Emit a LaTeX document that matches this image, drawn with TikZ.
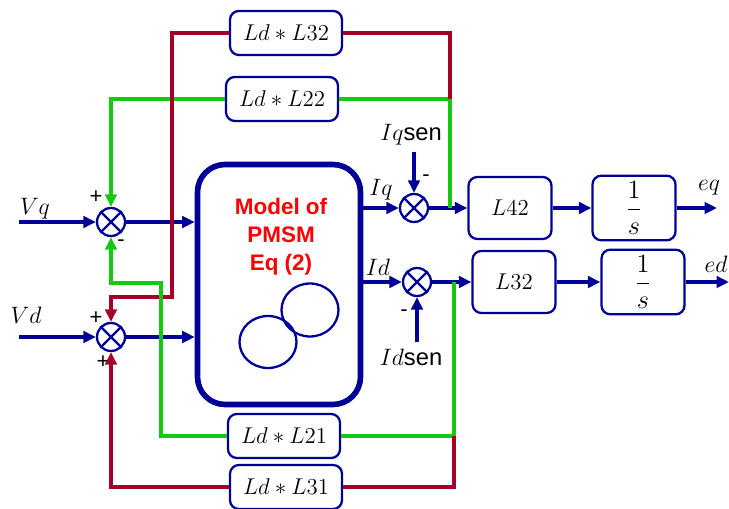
\RequirePackage{fix-cm}
\documentclass[tikz,border=0pt]{standalone}
\usepackage{fontspec}
\setmainfont{Liberation Sans}
\usetikzlibrary{arrows.meta, positioning, calc}
\definecolor{pmblue}{RGB}{0,0,150}
\definecolor{fbred}{RGB}{165,0,40}
\definecolor{fbgreen}{RGB}{20,200,20}
\definecolor{pmred}{RGB}{255,0,0}

\begin{document}
\begin{tikzpicture}[
  x=0.02cm, y=-0.02cm,
  blk/.style={rectangle, rounded corners=5pt, draw=pmblue, line width=1.3pt,
    minimum width=2.24cm, minimum height=0.88cm, font=\fontsize{13}{15}\selectfont},
  gainbox/.style={blk, minimum width=1.66cm, minimum height=1.24cm},
  sumnode/.style={circle, draw=pmblue, line width=1.3pt, minimum size=0.56cm, inner sep=0pt},
  sig/.style={draw=pmblue, line width=2pt, -{Triangle[length=2.5mm, width=2.3mm]}},
  gfb/.style={draw=fbgreen, line width=1.9pt},
  rfb/.style={draw=fbred, line width=1.9pt},
  tip/.style={-{Triangle[length=2.5mm, width=2.3mm]}},
  sgn/.style={font=\fontsize{12.5}{14}\selectfont},
  lbl/.style={font=\fontsize{13.5}{15}\selectfont}
  ]
  \useasboundingbox (0,0) rectangle (729,509);
  \clip (0,0) rectangle (729,509);

  %% Model block
  \begin{scope}
    \node[draw=pmblue, line width=3.2pt, rounded corners=0.55cm,
      minimum width=3.26cm, minimum height=4.8cm] (model) at (279,284.5) {};
    \node[text=pmred, align=center, font={\fontsize{12.8}{16}\selectfont\bfseries}]
      (mtext) at (281,237) {Model of\\PMSM\\Eq (2)};
    \draw[pmblue, line width=1.3pt] (268,342) ellipse [x radius=0.57cm, y radius=0.52cm];
    \draw[pmblue, line width=1.3pt] (310,310) ellipse [x radius=0.57cm, y radius=0.53cm];
  \end{scope}

  % summing points
  \foreach \n/\x/\y in {s1/111/222, s2/111/337, s3/414/208, s4/417/282}{
    \node[sumnode] (\n) at (\x,\y) {};
    \draw[pmblue, line width=1.3pt] (\n.north west) -- (\n.south east)
      (\n.north east) -- (\n.south west);
  }

  % blocks
  \node[blk] (l32fb) at (286,33) {$Ld*L32$};
  \node[blk] (l22fb) at (282,99) {$Ld*L22$};
  \node[blk] (l21fb) at (284,436) {$Ld*L21$};
  \node[blk] (l31fb) at (286,487) {$Ld*L31$};
  \node[gainbox] (l42) at (510,208) {$L42$};
  \node[gainbox] (l32) at (514,282) {$L32$};
  \node[gainbox, font=\fontsize{15}{17}\selectfont] (intq) at (634,208) {$\displaystyle\frac{1}{s}$};
  \node[gainbox, font=\fontsize{15}{17}\selectfont] (intd) at (643,282) {$\displaystyle\frac{1}{s}$};

  % labels
  \node[lbl] (vqlbl) at (35,209) {$Vq$};
  \node[lbl] (vdlbl) at (26,315) {$Vd$};
  \node[lbl] (iqlbl) at (381,190) {$Iq$};
  \node[lbl] (idlbl) at (378,267) {$Id$};
  \node[lbl] (iqsen) at (411,135) {$Iq$sen};
  \node[lbl] (idsen) at (411,357) {$Id$sen};
  \node[lbl] (eqlbl) at (709,188) {$eq$};
  \node[lbl] (edlbl) at (716,264) {$ed$};

  % signs
  \node[sgn] (p1a) at (96,197) {+};
  \node[sgn] (m1b) at (121,243) {-};
  \node[sgn] (p2a) at (96,318) {+};
  \node[sgn] (p2b) at (103,362) {+};
  \node[sgn] (m3) at (426,178) {-};
  \node[sgn] (m4) at (404,313) {-};

  % forward path begin
  \coordinate (vqin) at (19,222);
  \coordinate (vdin) at (19,337);
  \coordinate (eqout) at (717,208);
  \coordinate (edout) at (729,282);
  \draw[sig] (vqin) -- (s1.west);
  \draw[sig] (vdin) -- (s2.west);
  \draw[sig] (s1.east) -- (s1 -| model.west);
  \draw[sig] (s2.east) -- (s2 -| model.west);
  \draw[sig] (s3 -| model.east) -- (s3.west);
  \draw[sig] (s4 -| model.east) -- (s4.west);
  \draw[sig] (s3 |- iqsen.south) -- (s3.north);
  \draw[sig] (s4 |- idsen.north) -- (s4.south);
  \draw[sig] (s3.east) -- (l42.west);
  \draw[sig] (l42.east) -- (intq.west);
  \draw[sig] (intq.east) -- (eqout);
  \draw[sig] (s4.east) -- (l32.west);
  \draw[sig] (l32.east) -- (intd.west);
  \draw[sig] (intd.east) -- (edout);
  % forward path end

  % cross coupling begin
  \coordinate (jq) at (450,208);
  \coordinate (jd) at (454,282);
  \coordinate (rq) at (172,297);
  \coordinate (gd) at (161,283);
  \draw[gfb] (l22fb.east) -| (jq);
  \draw[rfb] (l32fb.east) -| (jq |- l22fb.east);
  \draw[gfb, tip] (l22fb.west) -| (s1.north);
  \draw[rfb, tip] (l32fb.west) -| (rq) -| (s2.north);
  \draw[gfb, tip] (l21fb.west) -| (gd) -| (s1.south);
  \draw[gfb] (l21fb.east) -| (jd);
  \draw[rfb] (l31fb.east) -| (jd |- l21fb.east);
  \draw[rfb, tip] (l31fb.west) -| (s2.south);
  % cross coupling end

\end{tikzpicture}
\end{document}
